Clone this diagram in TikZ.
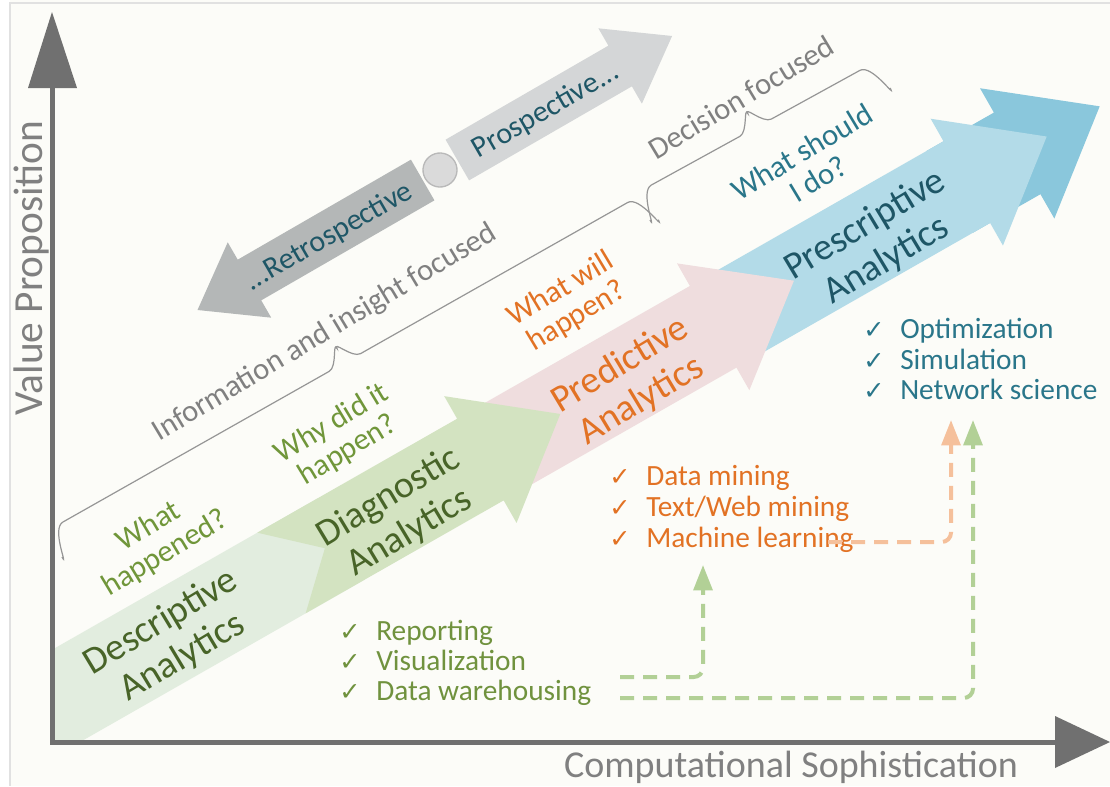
\documentclass[tikz,border=0pt]{standalone}
\usepackage{fontspec}
\setmainfont{Carlito}
\newfontfamily\dejavu{DejaVu Sans}
\usetikzlibrary{arrows.meta}

\definecolor{cream}{RGB}{252,252,248}
\definecolor{axisgray}{RGB}{112,112,112}
\definecolor{labgray}{RGB}{128,128,128}
\definecolor{bracegray}{RGB}{150,150,150}
\definecolor{descfill}{RGB}{226,237,223}
\definecolor{diagfill}{RGB}{211,227,193}
\definecolor{predfill}{RGB}{239,221,222}
\definecolor{presfill}{RGB}{179,219,232}
\definecolor{presdark}{RGB}{138,199,220}
\definecolor{dkgreen}{RGB}{72,100,40}
\definecolor{olive}{RGB}{112,150,58}
\definecolor{orng}{RGB}{226,114,36}
\definecolor{dkteal}{RGB}{30,86,102}
\definecolor{tealq}{RGB}{42,118,138}
\definecolor{retrofill}{RGB}{180,183,183}
\definecolor{prosfill}{RGB}{212,214,215}
\definecolor{circfill}{RGB}{218,218,218}
\definecolor{circline}{RGB}{185,185,185}
\definecolor{dashgreen}{RGB}{178,208,150}
\definecolor{dashorange}{RGB}{245,192,155}
\definecolor{listgreen}{RGB}{112,146,62}
\definecolor{framegray}{RGB}{225,225,225}

\begin{document}
\begin{tikzpicture}[x=0.75pt,y=-0.75pt,
  biglab/.style={font=\fontsize{28.5}{31}\selectfont, align=center, rotate=31, inner sep=0pt},
  qlab/.style={font=\fontsize{23}{23.5}\selectfont, align=center, rotate=31, inner sep=0pt},
  glab/.style={font=\fontsize{23}{24}\selectfont, text=labgray, rotate=31, inner sep=0pt},
  dlab/.style={font=\fontsize{22.5}{24}\selectfont, text=dkteal, rotate=30, inner sep=0pt},
  lst/.style={font=\fontsize{22}{24}\selectfont, anchor=base west, inner sep=0pt},
  chk/.style={font=\dejavu\fontsize{19}{19}\selectfont, anchor=base west, inner sep=0pt},
  bracestyle/.style={draw=bracegray, line width=0.9pt},
  dashln/.style={line width=3pt, dash pattern=on 10.5pt off 6.75pt, rounded corners=7pt, -{Triangle[length=19pt,width=14pt]}},
  axisline/.style={draw=axisgray, line width=3.75pt}
]
\useasboundingbox (0,0) rectangle (1110,786);
% background
\fill[cream] (0,0) rectangle (1110,786);
\fill[white] (0,0) rectangle (10,786);
\draw[framegray, line width=0.8pt] (10,786) -- (10,3) -- (1110,3);

% ascending arrows band
\begin{scope}
\clip (52,0) rectangle (1110,742);
\begin{scope}[shift={(52,758)}, rotate=29.7, yscale=-1]
  \fill[presdark] (1060,0) -- (1138,0) -- (1138,-28) -- (1233,47) -- (1138,122) -- (1138,94) -- (1060,94) -- cycle;
  \fill[presfill] (820,0) -- (1080,0) -- (1080,-26) -- (1172,47) -- (1080,120) -- (1080,94) -- (820,94) -- cycle;
  \fill[predfill] (540,0) -- (788,0) -- (788,-26) -- (881,47) -- (788,120) -- (788,94) -- (540,94) -- cycle;
  \fill[descfill] (-250,0) -- (360,0) -- (360,94) -- (-250,94) -- cycle;
  \fill[diagfill] (292,0) -- (520,0) -- (520,-26) -- (612,47) -- (520,120) -- (520,94) -- (290,94) -- (341,47) -- cycle;
\end{scope}
\end{scope}

% retrospective / prospective double arrow
\begin{scope}[shift={(440,170)}, rotate=30, yscale=-1]
  \fill[retrofill] (-20,23.5) -- (-220,23.5) -- (-220,43.5) -- (-280,0) -- (-220,-43.5) -- (-220,-23.5) -- (-20,-23.5) -- cycle;
  \fill[prosfill] (20,23.5) -- (208,23.5) -- (208,43.5) -- (268,0) -- (208,-43.5) -- (208,-23.5) -- (20,-23.5) -- cycle;
  \filldraw[fill=circfill, draw=circline, line width=1pt] (0,0) circle (17);
\end{scope}
\node[dlab] (retro) at (329,237) {...Retrospective};
\node[dlab] (pros) at (546,111) {Prospective...};

% braces
\begin{scope}[shift={(62,557)}, rotate=29.5, yscale=-1]
  \draw[bracestyle] (0,0) to[out=90,in=180] (18,30) -- (324,30) to[out=0,in=-90] (342,46) to[out=-90,in=180] (360,30) -- (667,30) to[out=0,in=90] (685,0);
\end{scope}
\begin{scope}[shift={(650,220)}, rotate=28.8, yscale=-1]
  \draw[bracestyle] (0,0) to[out=90,in=180] (18,30) -- (119,30) to[out=0,in=-90] (137,46) to[out=-90,in=180] (155,30) -- (256,30) to[out=0,in=90] (274,0);
\end{scope}
\node[glab] (info) at (325,333) {Information and insight focused};
\node[glab] (dec) at (741,97) {Decision focused};

% arrow labels
\node[biglab, text=dkgreen] (desc) at (172,640) {Descriptive\\Analytics};
\node[biglab, text=dkgreen] (diag) at (399,515) {Diagnostic\\Analytics};
\node[biglab, text=orng] (pred) at (631,383) {Predictive\\Analytics};
\node[biglab, text=dkteal] (pres) at (876,243) {Prescriptive\\Analytics};

% questions
\node[qlab, text=olive] (q1) at (157,540) {What\\happened?};
\node[qlab, text=olive] (q2) at (340,437) {Why did it\\happen?};
\node[qlab, text=orng] (q3) at (569,303) {What will\\happen?};
\node[qlab, text=tealq] (q4) at (810,165) {What should\\I do?};

% lists
\node[chk, text=listgreen] (c1) at (339,640) {✓};
\node[lst, text=listgreen] (rep) at (376,640) {Reporting};
\node[chk, text=listgreen] (c2) at (339,670) {✓};
\node[lst, text=listgreen] (vis) at (376,670) {Visualization};
\node[chk, text=listgreen] (c3) at (339,700) {✓};
\node[lst, text=listgreen] (dw) at (376,700) {Data warehousing};

\node[chk, text=orng] (c4) at (609,485) {✓};
\node[lst, text=orng] (dm) at (646,485) {Data mining};
\node[chk, text=orng] (c5) at (609,516) {✓};
\node[lst, text=orng] (twm) at (646,516) {Text/Web mining};
\node[chk, text=orng] (c6) at (609,547) {✓};
\node[lst, text=orng] (ml) at (646,547) {Machine learning};

\node[chk, text=tealq] (c7) at (863,338) {✓};
\node[lst, text=tealq] (opt) at (900,338) {Optimization};
\node[chk, text=tealq] (c8) at (863,369) {✓};
\node[lst, text=tealq] (sim) at (900,369) {Simulation};
\node[chk, text=tealq] (c9) at (863,399) {✓};
\node[lst, text=tealq] (ns) at (900,399) {Network science};

% dashed connectors
\coordinate (g1s) at (620,677);
\coordinate (g1e) at (703,565);
\coordinate (g2s) at (620,698);
\coordinate (g2e) at (973,420);
\coordinate (o1s) at (828,542);
\coordinate (o1e) at (951,420);
\draw[dashln, dashgreen] (g1s) -| (g1e);
\draw[dashln, dashgreen] (g2s) -| (g2e);
\draw[dashln, dashorange] (o1s) -| (o1e);

% axes
\draw[axisline, line join=miter] (52,86) -- (52,742) -- (1056,742);
\fill[axisgray] (28,88) -- (52,12) -- (77,88) -- cycle;
\fill[axisgray] (1055,716) -- (1110,742) -- (1055,768) -- cycle;
\node[font=\fontsize{28.5}{30}\selectfont, text=labgray, anchor=base, inner sep=0pt] (xl) at (791,777) {Computational Sophistication};
\node[font=\fontsize{31}{31}\selectfont, text=labgray, anchor=base, rotate=90, inner sep=0pt] (yl) at (42,268) {Value Proposition};
\end{tikzpicture}
\end{document}
